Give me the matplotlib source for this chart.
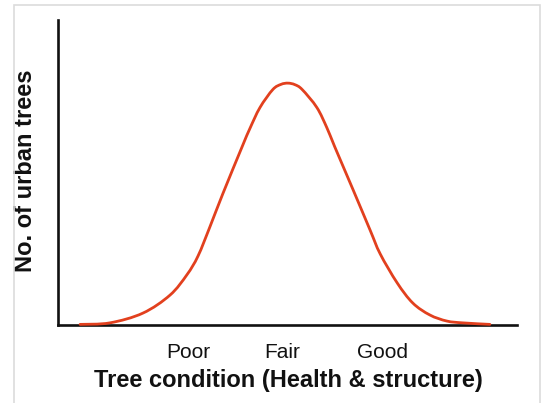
import matplotlib
matplotlib.use("Agg")
import matplotlib.pyplot as plt
from matplotlib.patches import Rectangle, PathPatch
from matplotlib.path import Path

# bell curve (x: tree condition 0-100, y: relative no. of trees 0-100)
condition = [4.8, 11.3, 18.5, 24.4, 28.1, 30.5, 33.1, 35.9, 40.1, 41.8, 44.0, 46.8,
             48.6, 50.1, 51.6, 53.2, 56.4, 58.6, 60.3, 64.3, 68.0, 70.2, 73.9, 77.3,
             81.0, 84.7, 88.2, 94.1]
num_trees = [0.2, 0.7, 3.9, 9.8, 16.5, 22.6, 32.2, 43.0, 58.4, 64.4, 71.3, 77.2,
             78.9, 79.3, 78.8, 77.2, 71.3, 64.6, 58.4, 44.3, 31.1, 23.3, 13.8, 7.2,
             3.3, 1.3, 0.7, 0.2]

tick_pos = [28.3, 48.8, 70.8]
tick_labels = ["Poor", "Fair", "Good"]

plt.rcParams['font.family'] = ['Liberation Sans', 'DejaVu Sans']


# smooth line through the read points (catmull-rom segments drawn as bezier curves)
def smooth_path(xs, ys):
    pts = list(zip(xs, ys))
    n = len(pts)
    verts = [pts[0]]
    codes = [Path.MOVETO]
    for i in range(n - 1):
        p0 = pts[max(i - 1, 0)]
        p1 = pts[i]
        p2 = pts[i + 1]
        p3 = pts[min(i + 2, n - 1)]
        c1 = (p1[0] + (p2[0] - p0[0]) / 6, p1[1] + (p2[1] - p0[1]) / 6)
        c2 = (p2[0] - (p3[0] - p1[0]) / 6, p2[1] - (p3[1] - p1[1]) / 6)
        verts += [c1, c2, p2]
        codes += [Path.CURVE4] * 3
    return Path(verts, codes)


fig = plt.figure(figsize=(5.43, 4.03), dpi=100)
fig.patch.set_facecolor("white")

# thin grey frame around the picture
fig.patches.append(Rectangle((14 / 543, -0.05), 526 / 543, 1.05 - 5 / 403,
                             transform=fig.transFigure, fill=False,
                             edgecolor="#dcdcdc", linewidth=1.2))

ax = fig.add_axes([58 / 543, (403 - 325) / 403, 459 / 543, 305 / 403])
curve = PathPatch(smooth_path(condition, num_trees), fill=False,
                  edgecolor="#e2401e", linewidth=2.0, joinstyle="round",
                  capstyle="round", clip_on=False, zorder=3)
ax.add_patch(curve)

ax.set_xlim(0, 100)
ax.set_ylim(0, 100)

for side in ["top", "right"]:
    ax.spines[side].set_visible(False)
for side in ["left", "bottom"]:
    ax.spines[side].set_color("#111111")
    ax.spines[side].set_linewidth(1.9)
    ax.spines[side].set_zorder(2)

ax.set_yticks([])
ax.set_xticks(tick_pos)
ax.set_xticklabels(tick_labels, fontsize=15, color="#111111")
ax.tick_params(axis="x", length=0, pad=13)

ax.set_xlabel("Tree condition (Health & structure)", fontsize=17,
              fontweight="bold", va="center", color="#111111")
ax.xaxis.set_label_coords(0.501, (325 - 380) / 305)
ax.set_ylabel("No. of urban trees", fontsize=17, fontweight="bold",
              va="center", color="#111111")
ax.yaxis.set_label_coords((26 - 58) / 459, (325 - 171) / 305)

fig.savefig("out.png", dpi=100)
